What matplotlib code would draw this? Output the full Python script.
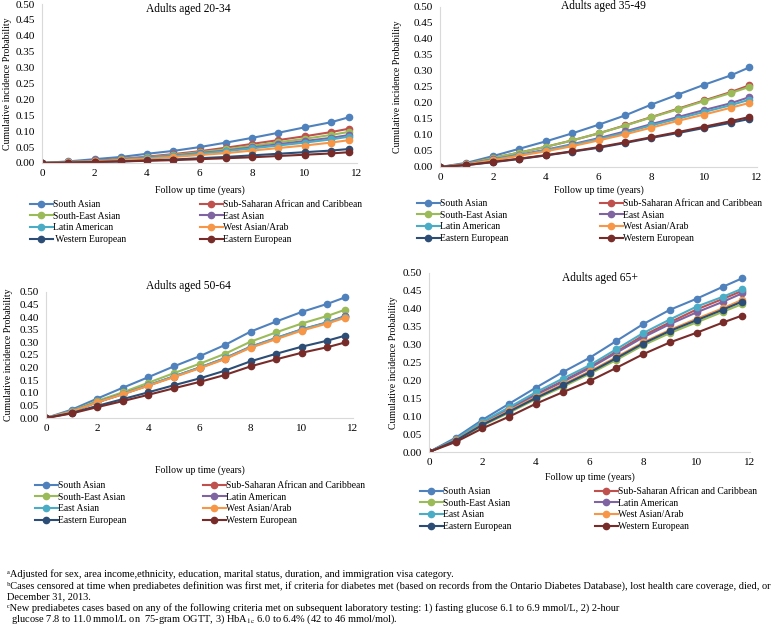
import numpy as np
import matplotlib.pyplot as plt

plt.rcParams['font.family'] = ['Liberation Serif', 'DejaVu Serif']
plt.rcParams['mathtext.fontset'] = 'stix'

W, H = 778, 628

# follow up time points (years)
years = [0, 1, 2, 3, 4, 5, 6, 7, 8, 9, 10, 11, 11.7]

# series colours, same order in every panel
colors = ['#4F81BD', '#C0504D', '#9BBB59', '#8064A2',
          '#4BACC6', '#F79646', '#2C4D75', '#772C2A']

# Adults aged 20-34
labels_20_34 = ['South Asian', 'Sub-Saharan African and Caribbean', 'South-East Asian', 'East Asian',
                'Latin American', 'West Asian/Arab', ' Western European', 'Eastern European']
cip_20_34 = [
    [0, 0.005, 0.012, 0.019, 0.029, 0.038, 0.050, 0.064, 0.079, 0.095, 0.112, 0.128, 0.144],
    [0, 0.003, 0.008, 0.013, 0.020, 0.028, 0.037, 0.048, 0.060, 0.072, 0.084, 0.097, 0.108],
    [0, 0.003, 0.007, 0.012, 0.018, 0.025, 0.034, 0.043, 0.054, 0.065, 0.076, 0.088, 0.098],
    [0, 0.002, 0.006, 0.011, 0.017, 0.023, 0.031, 0.039, 0.049, 0.059, 0.069, 0.079, 0.088],
    [0, 0.002, 0.006, 0.010, 0.016, 0.022, 0.029, 0.037, 0.046, 0.055, 0.064, 0.074, 0.083],
    [0, 0.002, 0.005, 0.009, 0.013, 0.019, 0.025, 0.031, 0.039, 0.047, 0.055, 0.064, 0.072],
    [0, 0.001, 0.003, 0.005, 0.008, 0.011, 0.015, 0.019, 0.024, 0.029, 0.034, 0.039, 0.044],
    [0, 0.001, 0.003, 0.005, 0.007, 0.009, 0.012, 0.015, 0.018, 0.022, 0.026, 0.030, 0.034],
]

# Adults aged 35-49
labels_35_49 = ['South Asian', 'Sub-Saharan African and Caribbean', 'South-East Asian', 'East Asian',
                'Latin American', 'West Asian/Arab', 'Eastern European', 'Western European']
cip_35_49 = [
    [0, 0.013, 0.034, 0.057, 0.080, 0.105, 0.132, 0.161, 0.195, 0.226, 0.257, 0.286, 0.311],
    [0, 0.010, 0.028, 0.045, 0.063, 0.083, 0.105, 0.130, 0.156, 0.182, 0.208, 0.234, 0.255],
    [0, 0.010, 0.028, 0.045, 0.063, 0.083, 0.105, 0.129, 0.155, 0.180, 0.206, 0.231, 0.250],
    [0, 0.009, 0.024, 0.038, 0.054, 0.071, 0.090, 0.111, 0.134, 0.156, 0.178, 0.199, 0.218],
    [0, 0.008, 0.023, 0.037, 0.052, 0.069, 0.087, 0.107, 0.130, 0.151, 0.172, 0.193, 0.210],
    [0, 0.008, 0.021, 0.035, 0.049, 0.065, 0.083, 0.102, 0.123, 0.144, 0.164, 0.185, 0.200],
    [0, 0.006, 0.015, 0.025, 0.036, 0.048, 0.060, 0.075, 0.091, 0.106, 0.122, 0.138, 0.150],
    [0, 0.006, 0.016, 0.026, 0.037, 0.049, 0.062, 0.077, 0.093, 0.109, 0.126, 0.143, 0.156],
]

# Adults aged 50-64
labels_50_64 = ['South Asian', 'Sub-Saharan African and Caribbean', 'South-East Asian', 'Latin American',
                'East Asian', 'West Asian/Arab', 'Eastern European', 'Western European']
cip_50_64 = [
    [0, 0.033, 0.077, 0.120, 0.162, 0.205, 0.245, 0.290, 0.343, 0.383, 0.421, 0.453, 0.479],
    [0, 0.025, 0.062, 0.095, 0.129, 0.164, 0.199, 0.236, 0.281, 0.316, 0.350, 0.378, 0.403],
    [0, 0.028, 0.068, 0.102, 0.140, 0.178, 0.215, 0.255, 0.303, 0.340, 0.375, 0.405, 0.430],
    [0, 0.026, 0.063, 0.096, 0.130, 0.165, 0.200, 0.238, 0.283, 0.318, 0.352, 0.380, 0.405],
    [0, 0.026, 0.063, 0.095, 0.130, 0.165, 0.200, 0.237, 0.282, 0.317, 0.351, 0.379, 0.402],
    [0, 0.025, 0.062, 0.094, 0.128, 0.162, 0.197, 0.234, 0.279, 0.313, 0.347, 0.375, 0.398],
    [0, 0.020, 0.048, 0.075, 0.102, 0.130, 0.157, 0.188, 0.225, 0.255, 0.283, 0.307, 0.327],
    [0, 0.018, 0.043, 0.067, 0.092, 0.118, 0.143, 0.171, 0.205, 0.233, 0.259, 0.281, 0.300],
]

# Adults aged 65+
labels_65 = labels_50_64
cip_65 = [
    [0, 0.040, 0.090, 0.135, 0.180, 0.223, 0.263, 0.310, 0.357, 0.397, 0.428, 0.462, 0.485],
    [0, 0.035, 0.082, 0.121, 0.162, 0.198, 0.237, 0.280, 0.325, 0.362, 0.398, 0.428, 0.450],
    [0, 0.031, 0.074, 0.110, 0.148, 0.182, 0.218, 0.257, 0.298, 0.332, 0.362, 0.392, 0.413],
    [0, 0.034, 0.081, 0.120, 0.160, 0.196, 0.234, 0.277, 0.320, 0.357, 0.390, 0.420, 0.443],
    [0, 0.036, 0.085, 0.125, 0.167, 0.205, 0.242, 0.287, 0.332, 0.370, 0.406, 0.434, 0.456],
    [0, 0.033, 0.078, 0.116, 0.154, 0.189, 0.225, 0.265, 0.306, 0.341, 0.372, 0.402, 0.425],
    [0, 0.032, 0.076, 0.113, 0.151, 0.186, 0.222, 0.262, 0.303, 0.338, 0.368, 0.398, 0.420],
    [0, 0.028, 0.066, 0.099, 0.135, 0.167, 0.198, 0.235, 0.273, 0.306, 0.333, 0.362, 0.381],
]


def rect(l, t, r, b):
    return [l / W, 1 - b / H, (r - l) / W, (b - t) / H]


def px(x, y):
    return x / W, 1 - y / H


def panel(fig, box, data, labels, title, title_xy, ylab_x, xlab_y, leg_x, leg_y):
    ax = fig.add_axes(rect(*box))
    lines = []
    for vals, c, lab in zip(data, colors, labels):
        ln, = ax.plot(years, vals, color=c, lw=1.5, marker='o', ms=4.5, label=lab)
        lines.append(ln)
    ax.set_xlim(0, 12)
    ax.set_ylim(0, 0.5)
    ax.set_xticks([0, 2, 4, 6, 8, 10, 12])
    ax.set_yticks(np.arange(0, 0.51, 0.05))
    ax.set_yticklabels(['%.2f' % v for v in np.arange(0, 0.51, 0.05)])
    ax.tick_params(length=0, labelsize=8, pad=5)
    ax.tick_params(axis='x', pad=4)
    for s in ['top', 'right']:
        ax.spines[s].set_visible(False)
    for s in ['left', 'bottom']:
        ax.spines[s].set_color('#D9D9D9')
        ax.spines[s].set_linewidth(0.8)
    ax.patch.set_alpha(0)

    fig.text(*px(*title_xy), title, ha='center', va='center', fontsize=8.3)
    yc = (box[1] + box[3]) / 2
    fig.text(*px(ylab_x, yc), 'Cumulative incidence Probability', rotation=90,
             ha='center', va='center', fontsize=7)
    xc = (box[0] + box[2]) / 2
    fig.text(*px(xc, xlab_y), 'Follow up time (years)', ha='center', va='center', fontsize=7)

    # Excel style legend: two columns, row-major
    for col in range(2):
        hs = lines[col::2]
        fig.legend(handles=hs, loc='upper left',
                   bbox_to_anchor=px(leg_x[col], leg_y), frameon=False,
                   fontsize=6.9, handlelength=2.35, handletextpad=0.0,
                   labelspacing=0.28, borderpad=0, borderaxespad=0,
                   markerscale=1.0)
    return ax


fig = plt.figure(figsize=(W / 100, H / 100), dpi=100)

panel(fig, (42, 4, 357, 163), cip_20_34, labels_20_34, 'Adults aged 20-34',
      (188, 9), 8, 190, (30, 200), 200)
panel(fig, (440, 7, 757, 167), cip_35_49, labels_35_49, 'Adults aged 35-49',
      (603, 6), 397, 190, (417, 600), 199)
panel(fig, (46, 292, 353, 418), cip_50_64, labels_50_64, 'Adults aged 50-64',
      (188, 286), 9, 470, (35, 203), 481)
panel(fig, (429, 273, 750, 452), cip_65, labels_65, 'Adults aged 65+',
      (600, 278), 393, 477, (420, 595), 487)

notes = [
    (574, 7, 'ᵃAdjusted for sex, area income,ethnicity, education, marital status, duration, and immigration visa category.'),
    (586, 7, 'ᵇCases censored at time when prediabetes definition was first met, if criteria for diabetes met (based on records from the Ontario Diabetes Database), lost health care coverage, died, or'),
    (597, 7, 'December 31, 2013.'),
    (608, 7, 'ᶜNew prediabetes cases based on any of the following criteria met on subsequent laboratory testing: 1) fasting glucose 6.1 to 6.9 mmol/L, 2) 2-hour'),
    (619, 9, r' glucose 7.8 to 11.0 mmol/L on  75-gram OGTT, 3) HbA$_{\mathrm{1c}}$ 6.0 to 6.4% (42 to 46 mmol/mol).'),
]
for y, x, t in notes:
    fig.text(*px(x, y), t, ha='left', va='center', fontsize=7.45)

fig.savefig('out.png', dpi=100)
